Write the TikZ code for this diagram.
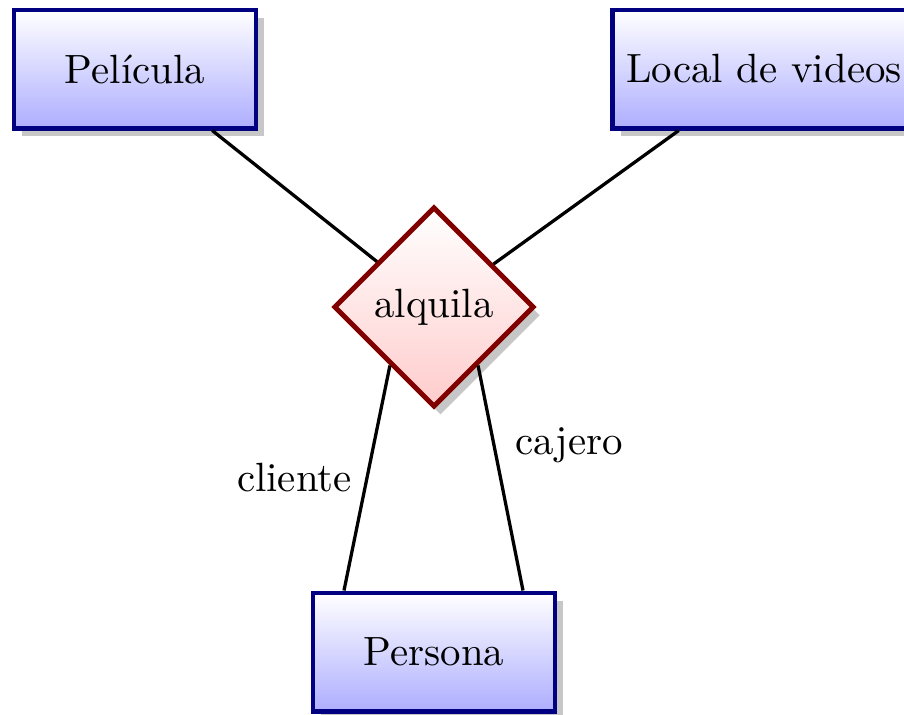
\documentclass[tikz,border=0pt]{standalone}
\usetikzlibrary{shapes.geometric,shadows,calc}
\tikzset{
  entity/.style={rectangle, draw=blue!50!black, very thick, top color=white, bottom color=blue!32,
    minimum width=59.2pt, minimum height=28.9pt,
    drop shadow={fill=black!22, opacity=1, shadow xshift=2pt, shadow yshift=-2pt}},
  relation/.style={diamond, draw=red!50!black, very thick, top color=white, bottom color=red!20,
    minimum size=49pt, inner sep=1pt,
    drop shadow={fill=black!22, opacity=1, shadow xshift=1.6pt, shadow yshift=-2pt}},
  link/.style={thick, black}
}
\begin{document}
\begin{tikzpicture}[x=0.2447pt, y=-0.2447pt]
\useasboundingbox (0,0) rectangle (904,714);
\node[entity] (pel) at (135,69) {Película};
\node[entity] (loc) at (764,69) {Local de videos};
\node[entity] (per) at (434,652) {Persona};
\node[relation] (alq) at (434,307) {alquila};
\coordinate (perl) at ($(per.north)+(-90,0)$);
\coordinate (perr) at ($(per.north)+(89,0)$);
\draw[link] (pel) -- (alq);
\draw[link] (loc) -- (alq);
\draw[link] (alq.233) -- node[left] {cliente} (perl);
\draw[link] (alq.307) -- node[above right] {cajero} (perr);
\end{tikzpicture}
\end{document}
